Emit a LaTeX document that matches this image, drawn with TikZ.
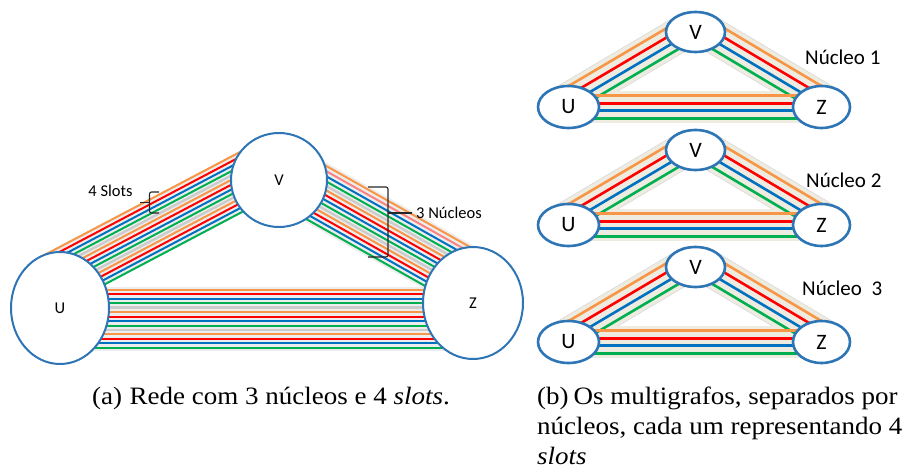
\documentclass[tikz,border=0pt]{standalone}
\usepackage{fontspec}
\setmainfont{Liberation Serif}
\newfontfamily\capfont{Liberation Serif}[FakeStretch=1.08]
\newfontfamily\lblfont{Carlito}
\usetikzlibrary{calc,shapes.geometric,backgrounds}

\definecolor{cOrange}{RGB}{247,150,70}
\definecolor{cRed}{RGB}{255,0,0}
\definecolor{cPink}{RGB}{250,130,130}
\definecolor{cBlue}{RGB}{0,112,192}
\definecolor{cGreen}{RGB}{0,176,80}
\definecolor{cNode}{RGB}{46,117,182}
\definecolor{cBand}{RGB}{238,236,225}

\tikzset{
  bignode/.style={ellipse, draw=cNode, line width=2pt, fill=white, inner sep=0pt,
    font=\lblfont\fontsize{16.5}{20}\selectfont},
  smallnode/.style={ellipse, draw=cNode, line width=2.6pt, fill=white, inner sep=0pt,
    font=\lblfont\fontsize{22}{26}\selectfont},
  strand/.style={line width=2pt},
  fibre/.style={line width=2.6pt},
  brace/.style={line width=1.1pt, black!85, rounded corners=2pt},
  note/.style={font=\lblfont\fontsize{16.5}{20}\selectfont, inner sep=0pt},
  corelabel/.style={font=\lblfont\fontsize{21}{25}\selectfont, inner sep=0pt, anchor=west},
  caption/.style={font=\capfont\fontsize{25}{30}\selectfont, inner sep=0pt, anchor=base west},
}

% a cable of 3 cores x 4 slots between two points
% #1,#2 ends, #3 core pitch, #4 slot pitch, #5 colour of the first red slot, #6 band margin
\newcommand\cable[6]{%
  \pgfmathsetmacro\cbTop{(2*#3+3*#4)/2}%
  \pgfmathsetmacro\cbWide{2*\cbTop+2*#6}%
  \draw[line width=\cbWide pt, black!7] (#1) -- (#2);
  \foreach \cbK in {0,1}{%
    \pgfmathsetmacro\cbOff{\cbTop-\cbK*#3-3*#4-(#3-3*#4)/2}%
    \draw[line width=2.4pt, black!20] ($(#1)!\cbOff pt!90:(#2)$) -- ($(#2)!\cbOff pt!-90:(#1)$);
  }
  \foreach \cbK in {0,1,2}{%
    \foreach \cbJ/\cbCol in {0/cOrange,1/cRed,2/cBlue,3/cGreen}{%
      \pgfmathsetmacro\cbOff{\cbTop-\cbK*#3-\cbJ*#4}%
      \ifnum\cbK=0 \ifnum\cbJ=1 \def\cbCol{#5}\fi\fi
      \draw[strand,\cbCol] ($(#1)!\cbOff pt!90:(#2)$) -- ($(#2)!\cbOff pt!-90:(#1)$);
    }
  }
}

% one core: band and four slots between two nodes
% #1,#2 ends, #3 offset of the top slot, #4 slot pitch, #5 band margin
\newcommand\coreband[5]{%
  \pgfmathsetmacro\lkMid{#3-1.5*#4}%
  \pgfmathsetmacro\lkW{3*#4+2*#5}%
  \pgfmathsetmacro\lkWo{\lkW+1.4}%
  \draw[line width=\lkWo pt, black!16] ($(#1)!\lkMid pt!90:(#2)$) -- ($(#2)!\lkMid pt!-90:(#1)$);
  \draw[line width=\lkW pt, cBand] ($(#1)!\lkMid pt!90:(#2)$) -- ($(#2)!\lkMid pt!-90:(#1)$);
}
\newcommand\corefibres[4]{%
  \foreach \lkJ/\lkCol in {0/cOrange,1/cRed,2/cBlue,3/cGreen}{%
    \pgfmathsetmacro\lkOff{#3-\lkJ*#4}%
    \draw[fibre,\lkCol] ($(#1)!\lkOff pt!90:(#2)$) -- ($(#2)!\lkOff pt!-90:(#1)$);
  }
}

% multigraph of a single core; #1 tag, #2,#3 centre of U
\newcommand\multigraph[3]{%
  \node[smallnode, minimum width=61pt, minimum height=42pt] (U#1) at (#2,#3) {U};
  \node[smallnode, minimum width=59pt, minimum height=40pt] (V#1) at ($(U#1)+(127,-75)$) {V};
  \node[smallnode, minimum width=57pt, minimum height=42pt] (Z#1) at ($(U#1)+(253,0)$) {Z};
  \begin{pgfonlayer}{background}
    \coreband{U#1}{V#1}{18}{8}{5}
    \coreband{V#1}{Z#1}{18}{8}{5}
    \coreband{U#1}{Z#1}{11.25}{7.5}{4.5}
    \corefibres{U#1}{V#1}{18}{8}
    \corefibres{V#1}{Z#1}{18}{8}
    \corefibres{U#1}{Z#1}{11.25}{7.5}
  \end{pgfonlayer}
}

\begin{document}
\begin{tikzpicture}[x=1pt,y=-1pt]
  \useasboundingbox (0,0) rectangle (904,473);

  % network with 3 cores and 4 slots
  \node[bignode, minimum width=98pt, minimum height=112pt] (U) at (60,308) {U};
  \node[bignode, minimum width=96pt, minimum height=94pt] (V) at (279,180) {V};
  \node[bignode, minimum width=100pt, minimum height=112pt] (Z) at (473,303) {Z};

  \coordinate (uvA) at ($(U)+(-6.7,-27.1)$);
  \coordinate (uvB) at ($(V)+(0,-18)$);
  \coordinate (vzA) at ($(V)+(22.2,4)$);
  \coordinate (vzB) at ($(Z)+(2.4,-20.8)$);
  \coordinate (uzA) at ($(U)+(0,10.8)$);
  \coordinate (uzB) at ($(Z)+(0,15.8)$);

  \begin{pgfonlayer}{background}
    \cable{uvA}{uvB}{20.55}{4.3}{cRed}{1}
    \cable{vzA}{vzB}{21.25}{4.5}{cPink}{3}
    \cable{uzA}{uzB}{22.35}{4.47}{cRed}{3}
  \end{pgfonlayer}

  % braces and their notes
  \draw[brace] (159,192) -- (149.5,192) -- (149.5,213) -- (159,213);
  \draw[brace] (140,202.5) -- (149.5,202.5);
  \node[note] (slots) at (110.5,191) {4 Slots};

  \draw[brace] (368,187) -- (388,187) -- (388,257) -- (368,257);
  \draw[brace] (388,213) -- (412,213);
  \node[note, anchor=west] (cores) at (416,213) {3 Núcleos};

  % one multigraph per core
  \multigraph{1}{568.5}{107}
  \multigraph{2}{568.5}{225}
  \multigraph{3}{568.5}{342}
  \node[corelabel] (n1) at (805,57) {Núcleo 1};
  \node[corelabel] (n2) at (806,180) {Núcleo 2};
  \node[corelabel] (n3) at (802,288) {Núcleo\ \ 3};

  % captions
  \node[caption] (capa) at (92,404.5) {(a)\hspace{0.3em}Rede com 3 núcleos e 4 \textit{slots}.};
  \node[caption] (capb1) at (537,404.5) {(b)\hspace{0.2em}Os multigrafos, separados por};
  \node[caption] (capb2) at (537,434.5) {núcleos, cada um representando 4};
  \node[caption] (capb3) at (537,464) {\textit{slots}};
\end{tikzpicture}
\end{document}
